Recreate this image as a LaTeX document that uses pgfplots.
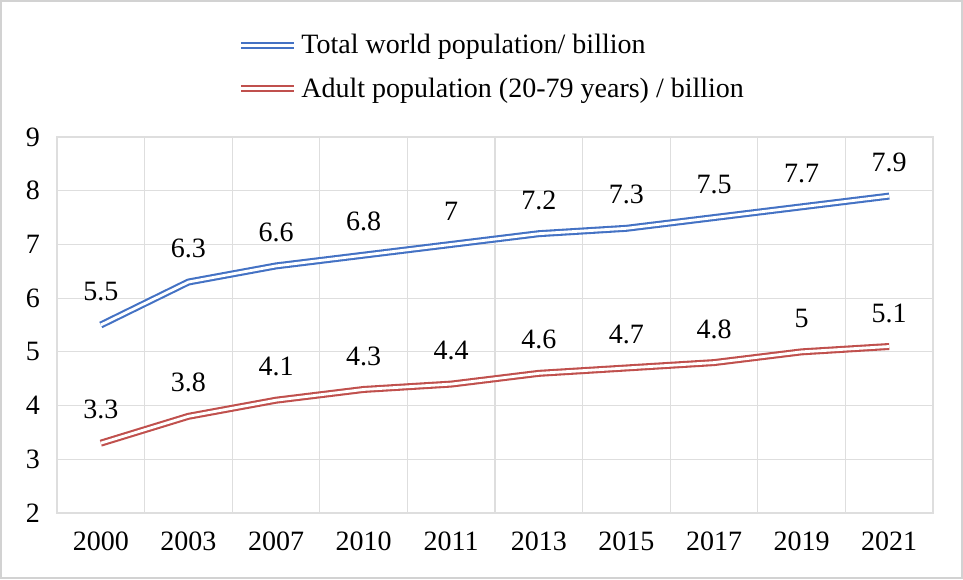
\documentclass[border=0pt]{standalone}
\usepackage{pgfplots}
\pgfplotsset{compat=1.18}
\usepackage{fontspec}
\setmainfont{Liberation Serif}

\definecolor{totalblue}{RGB}{68,114,196}
\definecolor{adultred}{RGB}{192,80,77}
\definecolor{gridgray}{RGB}{222,222,222}
\definecolor{framegray}{RGB}{210,210,210}

\begin{document}
\begin{tikzpicture}
  % outer chart frame
  \path[use as bounding box] (0,0) rectangle (481.5pt,289.5pt);
  \draw[framegray, line width=1pt] (0.5pt,0.5pt) rectangle (481pt,289pt);
  \begin{axis}[
    at={(28.5pt,33pt)}, anchor=south west,
    scale only axis,
    width=438pt, height=188pt,
    xmin=-0.5, xmax=9.5,
    ymin=2, ymax=9,
    xtick={0,1,2,3,4,5,6,7,8,9},
    xticklabels={2000,2003,2007,2010,2011,2013,2015,2017,2019,2021},
    minor xtick={-0.5,0.5,1.5,2.5,3.5,4.5,5.5,6.5,7.5,8.5,9.5},
    ytick={2,3,4,5,6,7,8,9},
    xmajorgrids=false, xminorgrids=true, ymajorgrids=true,
    grid style={gridgray, line width=0.6pt},
    minor grid style={gridgray, line width=0.6pt},
    axis line style={gridgray, line width=0.6pt},
    major tick length=0pt, minor tick length=0pt,
    /pgf/number format/assume math mode=true,
    tick label style={font=\fontsize{14}{17}\selectfont, black},
    yticklabel style={xshift=-5pt},
    xticklabel style={yshift=-6pt},
    nodes near coords,
    every node near coord/.append style={font=\fontsize{14}{17}\selectfont, black, anchor=south, inner sep=0pt, yshift=11.5pt},
    legend style={at={(rel axis cs:0.2055,1.285)}, anchor=north west, draw=none, fill=none,
      font=\fontsize{14}{17}\selectfont, row sep=6.5pt, inner sep=0pt},
    legend cell align=left,
    legend image code/.code={\draw[#1] (0pt,0pt) -- (26.5pt,0pt);},
  ]
    \addplot[totalblue, line width=1.05pt, double=white, double distance=1.4pt, line join=round]
      coordinates {(0,5.5) (1,6.3) (2,6.6) (3,6.8) (4,7) (5,7.2) (6,7.3) (7,7.5) (8,7.7) (9,7.9)};
    \addlegendentry{Total world population/ billion}
    \addplot[adultred, line width=1.05pt, double=white, double distance=1.4pt, line join=round]
      coordinates {(0,3.3) (1,3.8) (2,4.1) (3,4.3) (4,4.4) (5,4.6) (6,4.7) (7,4.8) (8,5) (9,5.1)};
    \addlegendentry{Adult population (20-79 years) / billion}
  \end{axis}
\end{tikzpicture}
\end{document}
